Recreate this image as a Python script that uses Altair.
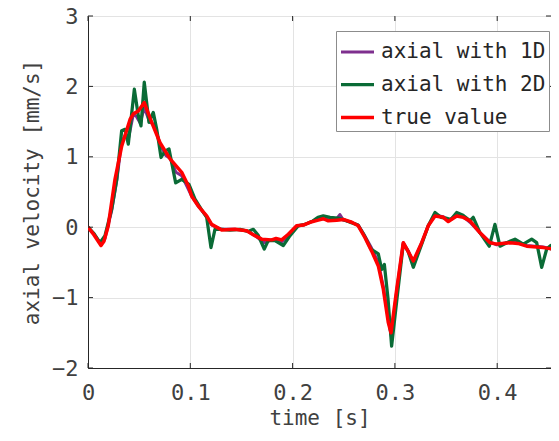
import altair as alt
import pandas as pd

# ---- data ----
true_t = [0, 0.0059, 0.0127, 0.0156, 0.0198, 0.0264, 0.0329, 0.0411, 0.0443, 0.0492, 0.0550,
          0.0623, 0.0704, 0.0802, 0.0916, 0.0980, 0.1014, 0.1078, 0.1160, 0.1209, 0.1307,
          0.1437, 0.1551, 0.1632, 0.1698, 0.1796, 0.1838, 0.1893, 0.1958, 0.2040, 0.2105,
          0.2170, 0.2251, 0.2300, 0.2349, 0.2431, 0.2496, 0.2578, 0.2642, 0.2708, 0.2773,
          0.2838, 0.2887, 0.2935, 0.2962, 0.3018, 0.3082, 0.3128, 0.3180, 0.3262, 0.3326,
          0.3392, 0.3473, 0.3522, 0.3604, 0.3669, 0.3734, 0.3832, 0.3930, 0.3995, 0.4125,
          0.4203, 0.4288, 0.4451, 0.4597]
true_v = [0, -0.11, -0.26, -0.20, 0.02, 0.68, 1.15, 1.53, 1.61, 1.65, 1.77,
          1.49, 1.20, 0.97, 0.78, 0.59, 0.44, 0.30, 0.16, 0.04, -0.04,
          -0.03, -0.05, -0.12, -0.17, -0.18, -0.16, -0.18, -0.10, 0.02, 0.03,
          0.07, 0.10, 0.12, 0.09, 0.10, 0.11, 0.07, 0.02, -0.15, -0.34,
          -0.55, -0.88, -1.35, -1.50, -0.88, -0.22, -0.34, -0.48, -0.22, 0.02,
          0.16, 0.14, 0.08, 0.16, 0.14, 0.09, -0.08, -0.22, -0.24, -0.22,
          -0.23, -0.27, -0.29, -0.32]

d1_t = [0, 0.0059, 0.0127, 0.0166, 0.0232, 0.0281, 0.0329, 0.0362, 0.0394, 0.0443, 0.0470,
        0.0510, 0.0550, 0.0600, 0.0650, 0.0704, 0.0760, 0.0802, 0.0860, 0.0916, 0.0960,
        0.1014, 0.1078, 0.1160, 0.1209, 0.1307, 0.1437, 0.1551, 0.1632, 0.1723, 0.1796,
        0.1893, 0.1958, 0.2040, 0.2105, 0.2170, 0.2251, 0.2300, 0.2380, 0.2431, 0.2462,
        0.2496, 0.2578, 0.2642, 0.2708, 0.2773, 0.2838, 0.2887, 0.2935, 0.2965, 0.3018,
        0.3082, 0.3128, 0.3180, 0.3262, 0.3326, 0.3392, 0.3473, 0.3522, 0.3604, 0.3669,
        0.3734, 0.3832, 0.3930, 0.3995, 0.4125, 0.4203, 0.4288, 0.4451, 0.4597]
d1_v = [0, -0.10, -0.24, -0.16, 0.24, 0.66, 1.22, 1.30, 1.25, 1.60, 1.58,
        1.48, 1.70, 1.50, 1.45, 1.18, 1.02, 0.98, 0.78, 0.73, 0.60,
        0.44, 0.30, 0.15, 0.03, -0.03, -0.03, -0.05, -0.12, -0.22, -0.18,
        -0.21, -0.11, 0.02, 0.03, 0.07, 0.12, 0.12, 0.10, 0.12, 0.18,
        0.10, 0.07, 0.03, -0.13, -0.30, -0.50, -0.85, -1.30, -1.55, -0.90,
        -0.22, -0.33, -0.50, -0.22, 0.02, 0.17, 0.15, 0.09, 0.18, 0.15,
        0.07, -0.08, -0.21, -0.25, -0.21, -0.22, -0.26, -0.28, -0.33]

d2_t = [0, 0.0059, 0.0117, 0.0166, 0.0232, 0.0281, 0.0329, 0.0362, 0.0394, 0.0453, 0.0492,
        0.0518, 0.0550, 0.0596, 0.0638, 0.0672, 0.0714, 0.0753, 0.0792, 0.0857, 0.0916,
        0.0987, 0.1046, 0.1105, 0.1160, 0.1202, 0.1241, 0.1310, 0.1388, 0.1486, 0.1564,
        0.1616, 0.1662, 0.1723, 0.1762, 0.1828, 0.1909, 0.1975, 0.2056, 0.2121, 0.2199,
        0.2248, 0.2300, 0.2366, 0.2444, 0.2512, 0.2581, 0.2639, 0.2698, 0.2766, 0.2838,
        0.2871, 0.2897, 0.2933, 0.2968, 0.3020, 0.3082, 0.3128, 0.3180, 0.3262, 0.3326,
        0.3392, 0.3450, 0.3499, 0.3548, 0.3604, 0.3666, 0.3734, 0.3766, 0.3832, 0.3923,
        0.3978, 0.4027, 0.4093, 0.4174, 0.4255, 0.4337, 0.4386, 0.4435, 0.4484, 0.4523,
        0.4565, 0.4607]
d2_v = [0, -0.09, -0.22, -0.12, 0.26, 0.68, 1.37, 1.39, 1.18, 1.96, 1.58,
        1.44, 2.06, 1.49, 1.63, 1.39, 0.99, 1.08, 1.11, 0.63, 0.68,
        0.61, 0.40, 0.26, 0.14, -0.29, -0.03, -0.03, -0.04, -0.03, -0.06,
        -0.03, -0.11, -0.31, -0.19, -0.19, -0.26, -0.12, 0.02, 0.04, 0.09,
        0.14, 0.16, 0.14, 0.13, 0.10, 0.06, 0.03, -0.11, -0.31, -0.38,
        -0.60, -0.53, -1.02, -1.69, -1.02, -0.24, -0.34, -0.57, -0.24, 0.02,
        0.21, 0.14, 0.13, 0.11, 0.21, 0.17, 0.09, 0.14, -0.08, -0.27,
        0.04, -0.27, -0.22, -0.17, -0.24, -0.17, -0.22, -0.57, -0.31, -0.26,
        -0.43, -0.38]

series_names = ["axial with 1D", "axial with 2D", "true value"]
series_colors = ["#7E2F8E", "#0A6B36", "#FF0000"]
x_ticks = [0, 0.1, 0.2, 0.3, 0.4]
y_ticks = [-2, -1, 0, 1, 2, 3]

rows = []
for i, (tt, vv) in enumerate([(d1_t, d1_v), (d2_t, d2_v), (true_t, true_v)]):
    for a, b in zip(tt, vv):
        rows.append({"t": a, "v": b, "series": series_names[i]})
df = pd.DataFrame(rows)
xt = pd.DataFrame({"t": x_ticks})
yt = pd.DataFrame({"v": y_ticks})

W, H = 463, 352
FONT = "DejaVu Sans Mono"
TXT = "#404040"

xscale = alt.Scale(domain=[0, 0.4526], nice=False, zero=False)
yscale = alt.Scale(domain=[-2, 3], nice=False, zero=False)

lines = alt.Chart(df).mark_line(clip=True, strokeJoin="round").encode(
    x=alt.X("t:Q", scale=xscale,
            axis=alt.Axis(values=x_ticks, format="~g", title="time [s]", grid=True,
                          ticks=False, labelFlush=False, labelPadding=14, titlePadding=4)),
    y=alt.Y("v:Q", scale=yscale,
            axis=alt.Axis(values=y_ticks, format="d", title="axial velocity [mm/s]",
                          grid=True, ticks=False, labelFlush=False, labelPadding=10,
                          titlePadding=9)),
    color=alt.Color("series:N",
                    scale=alt.Scale(domain=series_names, range=series_colors),
                    legend=alt.Legend(title=None, orient="none", legendX=248, legendY=15,
                                      symbolType="stroke", symbolSize=1089,
                                      symbolStrokeWidth=3, labelFontSize=21,
                                      labelFont=FONT, labelColor="#262626",
                                      labelOffset=5, rowPadding=4, padding=3,
                                      strokeColor="#8c8c8c", fillColor="white",
                                      labelLimit=300)),
    strokeWidth=alt.StrokeWidth("series:N",
                                scale=alt.Scale(domain=series_names, range=[3.0, 3.5, 3.5]),
                                legend=None),
)

tick_style = dict(color="#262626", strokeWidth=1)
bottom = alt.Chart(xt).mark_rule(**tick_style).encode(x=alt.X("t:Q", scale=xscale), y=alt.value(H), y2=alt.value(H - 5))
top = alt.Chart(xt).mark_rule(**tick_style).encode(x=alt.X("t:Q", scale=xscale), y=alt.value(0), y2=alt.value(5))
left = alt.Chart(yt).mark_rule(**tick_style).encode(y=alt.Y("v:Q", scale=yscale), x=alt.value(0), x2=alt.value(5))
right = alt.Chart(yt).mark_rule(**tick_style).encode(y=alt.Y("v:Q", scale=yscale), x=alt.value(W), x2=alt.value(W - 5))

chart = alt.layer(lines, bottom, top, left, right).properties(
    width=W, height=H,
    autosize=alt.AutoSizeParams(type="none"),
    padding={"left": 80, "top": 8, "right": 0, "bottom": 60},
).configure_view(stroke="#262626", strokeWidth=1).configure_axis(
    gridColor="#e3e3e3", gridWidth=1, domainColor="#262626",
    labelFont=FONT, labelFontSize=22, labelColor=TXT,
    titleFont=FONT, titleFontSize=21, titleFontWeight="normal", titleColor=TXT,
)

chart.save("out.html", embed_options={"renderer": "svg", "actions": False})
